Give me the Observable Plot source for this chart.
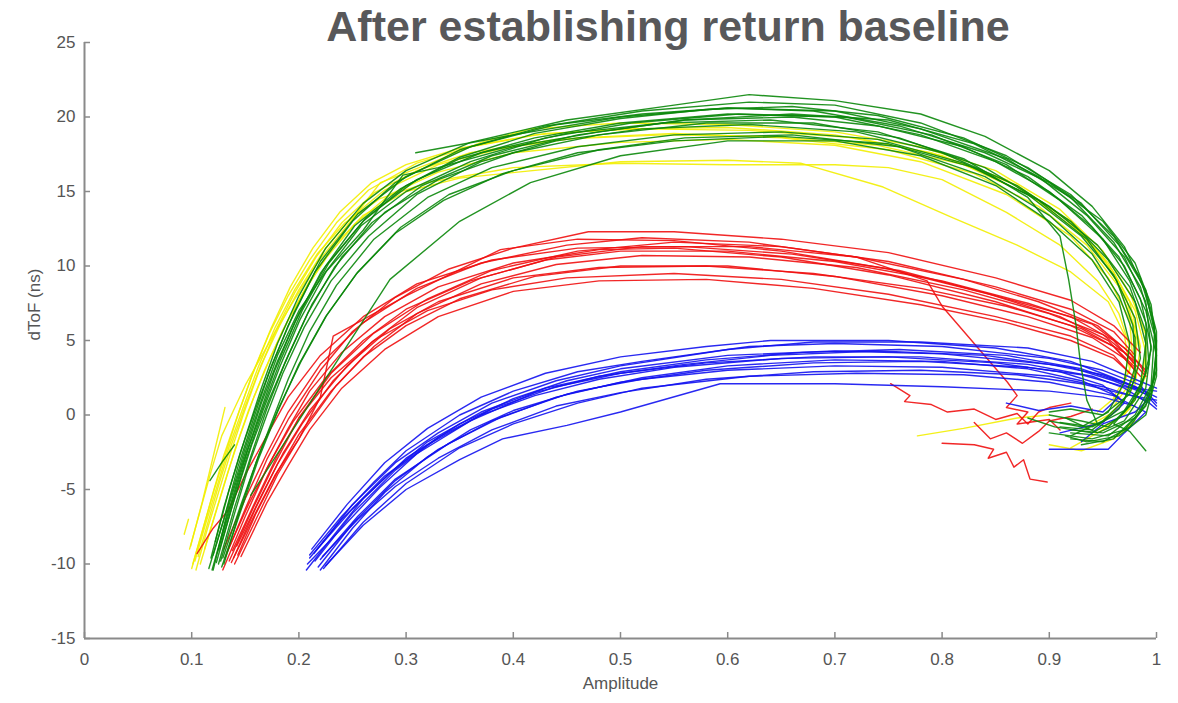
<!DOCTYPE html>
<html>
<head>
<meta charset="utf-8">
<script src="https://cdn.jsdelivr.net/npm/d3@7"></script>
<script src="https://cdn.jsdelivr.net/npm/@observablehq/plot@0.6"></script>
<style>
  html, body { margin: 0; padding: 0; background: #fff; }
  #wrap { position: relative; width: 1178px; height: 703px; overflow: hidden; }
  #title { position: absolute; top: 5px; left: 668px; transform: translateX(-50%); white-space: nowrap;
    font-family: "Liberation Sans", Arial, Helvetica, sans-serif; font-weight: bold; font-size: 43px;
    line-height: 42px; color: #58585a; z-index: 2; }
  #chart { position: absolute; top: 0; left: 0; }
</style>
</head>
<body>
<div id="wrap">
  <div id="chart"></div>
  <div id="title">After establishing return baseline</div>
</div>
<script>
// ---- Data (amplitude, dToF); each curve = flat [x0,y0,x1,y1,...] ----
const xTicks = [0, 0.1, 0.2, 0.3, 0.4, 0.5, 0.6, 0.7, 0.8, 0.9, 1];
const yTicks = [-15, -10, -5, 0, 5, 10, 15, 20, 25];

const yellowCurves = [
  [0.10,-10.3, 0.11,-7.8, 0.12,-5.2, 0.13,-2.7, 0.142,-0.2, 0.156,2.6, 0.172,5.4, 0.19,8.0, 0.21,10.4, 0.235,12.9, 0.265,15.1, 0.31,16.9, 0.36,18.0, 0.43,18.9, 0.52,19.2, 0.62,19.1, 0.72,18.6, 0.80,17.4, 0.87,15.4, 0.92,13.0, 0.955,10.2, 0.975,7.6, 0.985,4.6, 0.98,2.0, 0.96,0.2, 0.935,-0.8],
  [0.106,-9.5, 0.116,-7.0, 0.126,-4.5, 0.137,-2.0, 0.15,0.6, 0.165,3.4, 0.182,6.0, 0.20,8.4, 0.222,10.9, 0.248,13.2, 0.28,15.1, 0.33,16.8, 0.39,17.9, 0.46,18.6, 0.55,18.9, 0.65,18.6, 0.75,17.8, 0.83,16.2, 0.89,14.0, 0.935,11.4, 0.965,8.6, 0.98,5.8, 0.98,3.0, 0.97,1.0, 0.95,-0.4],
  [0.108,-10.0, 0.118,-7.6, 0.129,-5.0, 0.14,-2.4, 0.153,0.3, 0.168,3.0, 0.185,5.7, 0.204,8.2, 0.226,10.6, 0.252,12.8, 0.285,14.8, 0.33,16.3, 0.40,17.6, 0.50,18.3, 0.60,18.5, 0.70,18.1, 0.78,17.0, 0.86,14.8, 0.92,12.0, 0.955,9.2, 0.975,6.4, 0.978,3.6, 0.965,1.4, 0.945,0.2],
  [0.112,-9.0, 0.122,-6.6, 0.133,-4.0, 0.145,-1.4, 0.158,1.2, 0.173,3.8, 0.19,6.4, 0.21,9.0, 0.232,11.3, 0.26,13.4, 0.30,15.0, 0.35,15.9, 0.404,16.3, 0.50,17.0, 0.60,17.1, 0.668,16.9, 0.745,15.3, 0.808,13.3, 0.87,11.4, 0.92,9.6, 0.955,7.6, 0.97,5.4, 0.975,3.0, 0.96,1.2],
  [0.103,-9.8, 0.113,-7.3, 0.124,-4.7, 0.135,-2.1, 0.148,0.5, 0.162,3.2, 0.178,5.9, 0.196,8.4, 0.217,10.8, 0.243,12.9, 0.275,14.5, 0.32,15.6, 0.40,16.6, 0.50,16.9, 0.60,16.8, 0.70,16.8, 0.75,16.6, 0.80,15.8, 0.86,13.6, 0.91,11.4, 0.945,9.0, 0.965,6.8, 0.975,4.6, 0.97,2.4],
  [0.098,-9.0, 0.108,-6.4, 0.118,-3.8, 0.128,-1.4, 0.137,0.0, 0.15,2.0, 0.164,3.8, 0.178,5.6, 0.192,7.3, 0.205,8.8, 0.217,10.2, 0.245,12.7, 0.276,15.6, 0.323,16.9, 0.37,18.3, 0.416,19.2, 0.50,19.6, 0.60,19.5, 0.70,19.0, 0.78,18.0, 0.85,16.4, 0.91,13.8, 0.95,11.0, 0.975,8.2, 0.99,5.4, 0.99,2.6, 0.975,0.4, 0.95,-1.0, 0.92,-2.2],
  [0.104,-10.4, 0.114,-7.8, 0.125,-5.2, 0.136,-2.6, 0.148,0.0, 0.162,2.8, 0.178,5.6, 0.196,8.2, 0.216,10.6, 0.24,12.9, 0.27,14.9, 0.31,16.4, 0.36,17.6, 0.44,18.5, 0.54,18.8, 0.64,18.7, 0.74,18.1, 0.82,16.8, 0.88,14.8, 0.93,12.2, 0.96,9.6, 0.98,7.0, 0.99,4.2, 0.985,1.6, 0.97,0.0, 0.94,-1.2],
  [0.101,-10.0, 0.111,-7.5, 0.121,-5.0, 0.132,-2.5, 0.144,0.2, 0.158,3.0, 0.174,5.8, 0.192,8.6, 0.213,11.2, 0.238,13.6, 0.268,15.6, 0.30,16.8, 0.35,17.9, 0.42,18.8, 0.50,19.2, 0.60,19.3, 0.70,18.8, 0.79,17.6, 0.86,15.8, 0.915,13.2, 0.95,10.6, 0.972,7.8, 0.982,5.0, 0.978,2.4, 0.96,0.6],
  [0.099,-8.8, 0.11,-5.8, 0.12,-2.8, 0.131,0.5],
  [0.093,-8.0, 0.097,-7.0],
  [0.777,-1.4, 0.82,-0.9, 0.87,-0.2, 0.90,0.0],
  [0.90,-2.0, 0.93,-2.4, 0.96,-1.6, 0.98,-0.4]
];

const redCurves = [
  [0.129,-10.4, 0.15,-6.8, 0.17,-3.6, 0.19,-0.9, 0.21,1.6, 0.24,4.2, 0.28,6.6, 0.33,8.6, 0.40,10.2, 0.48,11.1, 0.55,11.2, 0.65,10.6, 0.75,9.4, 0.85,7.6, 0.92,6.0, 0.96,4.6, 0.98,3.2],
  [0.143,-9.4, 0.16,-6.6, 0.18,-3.8, 0.20,-1.3, 0.23,1.6, 0.26,3.9, 0.30,6.0, 0.35,7.8, 0.42,9.3, 0.50,10.0, 0.60,10.0, 0.70,9.3, 0.80,8.0, 0.88,6.6, 0.94,5.2, 0.97,3.8, 0.985,2.6],
  [0.135,-9.8, 0.155,-6.6, 0.175,-3.6, 0.20,-0.2, 0.23,2.8, 0.27,5.5, 0.32,7.8, 0.38,9.7, 0.46,11.0, 0.55,11.6, 0.65,11.3, 0.75,10.3, 0.85,8.6, 0.92,7.1, 0.96,5.6, 0.98,4.0],
  [0.138,-9.1, 0.16,-5.7, 0.18,-2.7, 0.20,-0.2, 0.23,2.5, 0.27,5.0, 0.32,7.0, 0.38,8.4, 0.45,9.2, 0.55,9.5, 0.65,9.1, 0.75,8.1, 0.85,6.6, 0.92,5.3, 0.96,4.0, 0.975,2.8],
  [0.146,-9.5, 0.17,-5.9, 0.19,-3.4, 0.21,-1.0, 0.24,1.8, 0.28,4.4, 0.33,6.6, 0.40,8.3, 0.48,9.0, 0.58,9.1, 0.68,8.5, 0.78,7.4, 0.86,6.2, 0.92,5.0, 0.96,3.8, 0.98,2.5],
  [0.131,-9.6, 0.15,-6.3, 0.17,-3.0, 0.19,-0.3, 0.22,3.0, 0.25,5.6, 0.29,7.9, 0.34,9.8, 0.40,11.2, 0.47,12.3, 0.55,12.3, 0.65,11.8, 0.75,10.9, 0.85,9.2, 0.92,7.7, 0.96,6.0, 0.985,4.2],
  [0.14,-10.0, 0.16,-7.0, 0.18,-4.0, 0.205,-1.0, 0.235,2.0, 0.27,4.6, 0.31,6.8, 0.37,8.8, 0.44,10.1, 0.52,10.7, 0.62,10.6, 0.72,9.9, 0.82,8.4, 0.90,6.8, 0.95,5.4, 0.98,3.6],
  [0.133,-9.2, 0.153,-6.0, 0.173,-3.2, 0.195,-0.4, 0.225,2.5, 0.26,5.0, 0.30,7.1, 0.36,9.0, 0.43,10.4, 0.50,11.0, 0.60,11.0, 0.70,10.3, 0.80,9.0, 0.88,7.5, 0.94,6.1, 0.97,4.5, 0.99,3.0],
  [0.137,-9.9, 0.158,-6.8, 0.178,-4.0, 0.20,-1.6, 0.22,1.2, 0.232,5.3, 0.30,8.0, 0.388,11.1, 0.46,11.8, 0.55,11.7, 0.65,11.0, 0.75,9.8, 0.85,8.0, 0.92,6.6, 0.96,5.0, 0.98,3.4],
  [0.142,-8.8, 0.165,-5.4, 0.185,-2.6, 0.21,0.3, 0.245,3.3, 0.285,5.8, 0.33,7.6, 0.40,9.2, 0.48,9.9, 0.58,10.0, 0.68,9.5, 0.78,8.5, 0.86,7.3, 0.93,5.8, 0.97,4.2, 0.99,2.6],
  [0.13,-9.0, 0.15,-5.6, 0.17,-2.6, 0.19,0.2, 0.22,3.4, 0.26,6.2, 0.31,8.5, 0.37,10.2, 0.45,11.4, 0.52,11.9, 0.62,11.6, 0.72,10.6, 0.786,9.0, 0.80,7.3, 0.861,2.2, 0.87,1.3, 0.86,0.5, 0.88,0.2, 0.87,-0.6, 0.90,-0.3, 0.91,-1.0],
  [0.105,-9.3, 0.12,-7.6, 0.134,-6.4, 0.15,-4.0, 0.17,-1.4, 0.19,1.2, 0.22,4.0, 0.26,6.6, 0.31,8.8, 0.38,10.4, 0.46,11.2, 0.56,11.3, 0.66,10.8, 0.76,9.7, 0.84,8.2, 0.91,6.6, 0.955,5.0, 0.98,3.0],
  [0.139,-9.6, 0.16,-6.2, 0.18,-3.3, 0.203,-0.6, 0.232,2.3, 0.268,4.9, 0.31,7.2, 0.37,9.2, 0.44,10.6, 0.52,11.3, 0.62,11.3, 0.72,10.6, 0.82,9.1, 0.89,7.6, 0.945,6.0, 0.975,4.2, 0.99,2.8],
  [0.752,2.1, 0.77,1.3, 0.765,0.9, 0.79,0.7, 0.805,0.2, 0.83,0.4, 0.85,-0.3, 0.87,0.1, 0.88,-0.6, 0.89,0.2, 0.90,0.5, 0.92,0.8],
  [0.80,-1.9, 0.83,-2.0, 0.848,-2.3, 0.843,-2.9, 0.86,-2.5, 0.867,-3.5, 0.876,-3.0, 0.882,-4.3, 0.898,-4.5],
  [0.83,-0.5, 0.845,-1.6, 0.86,-1.2, 0.875,-1.9, 0.89,-1.1, 0.90,-0.4, 0.92,-0.1, 0.94,0.4]
];

const blueCurves = [
  [0.207,-10.4, 0.23,-8.3, 0.26,-5.6, 0.30,-2.9, 0.35,-0.6, 0.40,1.1, 0.45,2.3, 0.50,3.1, 0.60,4.0, 0.70,4.3, 0.80,4.1, 0.90,3.4, 0.95,2.7, 0.98,1.9, 1.0,1.2],
  [0.21,-9.4, 0.24,-6.8, 0.27,-4.5, 0.30,-2.4, 0.35,0.0, 0.40,1.6, 0.46,2.9, 0.52,3.6, 0.62,4.6, 0.70,4.8, 0.80,4.6, 0.90,3.8, 0.95,3.0, 0.985,2.0, 0.995,1.0],
  [0.22,-10.4, 0.25,-7.6, 0.28,-5.2, 0.32,-2.8, 0.36,-1.0, 0.40,0.3, 0.46,1.6, 0.52,2.4, 0.60,3.0, 0.70,3.3, 0.80,3.2, 0.90,2.6, 0.95,1.9, 0.99,1.0, 1.0,0.4],
  [0.215,-9.8, 0.25,-6.6, 0.29,-3.7, 0.33,-1.5, 0.38,0.4, 0.44,1.9, 0.50,2.8, 0.58,3.5, 0.68,3.9, 0.78,3.9, 0.88,3.4, 0.94,2.6, 0.97,1.8, 0.99,0.9],
  [0.225,-10.1, 0.26,-7.4, 0.30,-5.0, 0.35,-3.0, 0.39,-1.6, 0.45,-0.7, 0.50,0.2, 0.593,2.1, 0.70,2.1, 0.80,1.9, 0.90,1.6, 0.95,1.2, 0.98,0.6],
  [0.212,-9.0, 0.245,-6.0, 0.28,-3.2, 0.32,-0.9, 0.37,1.2, 0.43,2.8, 0.50,3.9, 0.58,4.6, 0.64,5.0, 0.75,5.0, 0.85,4.5, 0.92,3.6, 0.96,2.5, 0.99,1.6, 1.0,0.8],
  [0.218,-10.2, 0.25,-7.3, 0.29,-4.4, 0.33,-2.3, 0.38,-0.4, 0.44,1.2, 0.50,2.2, 0.58,3.0, 0.68,3.5, 0.78,3.6, 0.88,3.2, 0.93,2.7, 0.97,1.9, 1.0,1.6],
  [0.21,-9.6, 0.24,-7.0, 0.28,-4.1, 0.32,-2.0, 0.37,0.0, 0.42,1.3, 0.48,2.4, 0.55,3.2, 0.65,3.8, 0.75,3.9, 0.85,3.5, 0.91,2.9, 0.95,2.0, 0.97,0.8, 0.95,-0.5, 0.91,-1.2],
  [0.223,-10.3, 0.26,-7.2, 0.30,-4.6, 0.35,-2.2, 0.40,-0.6, 0.46,0.8, 0.52,1.8, 0.62,2.6, 0.72,2.8, 0.82,2.7, 0.90,2.2, 0.96,1.3, 0.99,0.2, 0.97,-1.2, 0.955,-2.3, 0.90,-2.3],
  [0.214,-9.3, 0.25,-6.0, 0.29,-3.2, 0.33,-1.2, 0.38,0.8, 0.44,2.3, 0.50,3.3, 0.60,4.4, 0.68,4.9, 0.78,4.9, 0.88,4.5, 0.94,3.6, 0.98,2.4, 1.0,1.8],
  [0.22,-9.7, 0.255,-6.8, 0.29,-4.3, 0.34,-1.9, 0.39,-0.1, 0.45,1.4, 0.52,2.5, 0.60,3.3, 0.70,3.7, 0.80,3.6, 0.88,3.1, 0.93,2.3, 0.965,1.2, 0.95,0.2, 0.92,0.6, 0.89,0.3, 0.86,0.8],
  [0.208,-10.0, 0.24,-7.6, 0.275,-4.9, 0.31,-2.6, 0.36,-0.4, 0.42,1.5, 0.48,2.6, 0.56,3.4, 0.64,4.0, 0.74,4.3, 0.84,4.0, 0.92,3.2, 0.96,2.3, 0.99,1.4, 1.0,0.6],
  [0.216,-9.1, 0.25,-6.3, 0.285,-3.9, 0.32,-1.8, 0.37,0.2, 0.43,1.8, 0.50,2.9, 0.58,3.7, 0.67,4.2, 0.76,4.4, 0.86,4.0, 0.93,3.1, 0.975,2.0, 0.995,1.2, 0.98,0.2, 0.95,-0.6, 0.93,-1.8],
  [0.222,-9.5, 0.255,-7.0, 0.29,-4.8, 0.33,-2.9, 0.38,-1.0, 0.44,0.6, 0.50,1.5, 0.58,2.4, 0.68,2.9, 0.78,3.0, 0.87,2.7, 0.93,2.1, 0.97,1.4, 1.0,1.0]
];

const greenCurves = [
  [0.12,-10.4, 0.135,-6.0, 0.15,-2.5, 0.165,0.8, 0.18,3.6, 0.20,6.8, 0.225,10.0, 0.26,13.0, 0.30,15.4, 0.35,17.2, 0.42,18.6, 0.50,19.6, 0.60,20.2, 0.70,20.0, 0.78,18.8, 0.85,17.0, 0.90,15.0, 0.94,12.6, 0.97,10.0, 0.99,7.0, 1.0,4.0, 0.995,1.5, 0.98,-0.2, 0.95,-1.2, 0.92,-1.0],
  [0.127,-9.8, 0.14,-6.6, 0.155,-3.0, 0.17,0.0, 0.185,2.8, 0.205,5.9, 0.23,9.0, 0.265,12.0, 0.31,14.8, 0.37,17.0, 0.44,18.4, 0.52,19.2, 0.62,19.5, 0.72,19.0, 0.80,17.6, 0.87,15.4, 0.92,13.0, 0.955,10.4, 0.98,7.6, 0.99,4.8, 0.985,2.0, 0.97,0.3, 0.94,-0.8, 0.91,-0.5],
  [0.118,-9.6, 0.13,-6.2, 0.145,-2.6, 0.16,0.5, 0.175,3.4, 0.195,6.8, 0.22,10.3, 0.255,13.5, 0.30,16.0, 0.36,18.0, 0.44,19.5, 0.52,20.4, 0.62,21.0, 0.70,20.8, 0.78,19.6, 0.86,17.4, 0.92,14.8, 0.96,12.0, 0.985,9.2, 0.998,6.0, 1.0,3.0, 0.99,0.6, 0.97,-1.0, 0.94,-1.6, 0.90,-1.2],
  [0.122,-8.5, 0.135,-5.0, 0.15,-1.5, 0.165,1.8, 0.18,4.8, 0.20,8.0, 0.225,11.2, 0.26,14.2, 0.30,16.4, 0.36,18.3, 0.45,19.8, 0.55,20.8, 0.62,21.5, 0.70,21.1, 0.78,20.2, 0.84,18.7, 0.90,16.4, 0.94,14.0, 0.97,11.3, 0.99,8.2, 1.0,5.0, 0.998,2.4, 0.985,0.2, 0.96,-1.6, 0.93,-2.0],
  [0.13,-10.0, 0.145,-6.4, 0.16,-3.2, 0.175,-0.4, 0.19,2.4, 0.21,5.6, 0.235,8.7, 0.27,11.8, 0.32,14.6, 0.38,16.6, 0.46,18.0, 0.55,18.8, 0.65,19.0, 0.74,18.5, 0.82,16.9, 0.88,14.8, 0.93,12.0, 0.96,9.4, 0.98,6.5, 0.985,3.8, 0.975,1.4, 0.95,0.0, 0.92,0.4, 0.90,0.2],
  [0.124,-9.2, 0.138,-5.8, 0.152,-2.4, 0.168,0.8, 0.183,3.7, 0.203,7.0, 0.228,10.2, 0.262,13.2, 0.31,15.8, 0.37,17.6, 0.45,18.9, 0.54,19.6, 0.64,19.8, 0.74,19.0, 0.82,17.2, 0.88,14.6, 0.91,12.0, 0.918,9.1, 0.925,6.0, 0.929,3.5, 0.935,1.0, 0.945,-0.6],
  [0.116,-10.3, 0.13,-7.0, 0.143,-3.5, 0.157,-0.4, 0.172,2.8, 0.19,6.0, 0.215,9.6, 0.25,13.0, 0.29,15.6, 0.35,17.8, 0.43,19.4, 0.52,20.2, 0.60,20.6, 0.68,20.4, 0.76,19.4, 0.84,17.6, 0.90,15.6, 0.95,13.0, 0.98,10.2, 0.995,7.4, 1.0,4.4, 0.995,1.2, 0.975,-0.8, 0.95,-1.8, 0.92,-1.6],
  [0.126,-9.0, 0.14,-5.6, 0.156,-2.0, 0.172,1.0, 0.19,4.0, 0.212,7.4, 0.24,10.6, 0.28,13.6, 0.33,15.8, 0.40,17.6, 0.48,18.8, 0.58,19.6, 0.68,19.6, 0.76,18.6, 0.84,16.6, 0.90,14.0, 0.945,11.4, 0.975,8.6, 0.99,5.6, 0.99,2.8, 0.975,0.6, 0.955,-0.8, 0.93,-0.4, 0.90,0.0],
  [0.128,-10.2, 0.145,-6.6, 0.162,-3.0, 0.18,0.2, 0.20,3.4, 0.225,6.6, 0.255,9.6, 0.295,12.6, 0.34,14.8, 0.40,16.4, 0.48,17.8, 0.56,18.6, 0.66,18.8, 0.76,18.0, 0.84,16.0, 0.90,13.4, 0.94,10.8, 0.965,8.0, 0.98,5.2, 0.98,2.4, 0.965,0.4, 0.94,-1.0, 0.91,-0.8],
  [0.309,17.6, 0.40,18.8, 0.50,20.0, 0.60,20.6, 0.70,20.4, 0.78,19.2, 0.86,17.2, 0.92,14.6, 0.96,11.6, 0.985,8.6, 0.998,5.4, 0.995,2.0, 0.98,0.0, 0.955,-1.4, 0.92,-1.2],
  [0.12,-9.4, 0.135,-5.8, 0.15,-2.2, 0.165,1.0, 0.18,4.0, 0.20,7.0, 0.225,9.6, 0.26,12.4, 0.297,16.1, 0.33,16.6, 0.40,18.0, 0.48,19.0, 0.56,19.8, 0.66,20.0, 0.74,19.4, 0.82,18.0, 0.88,16.0, 0.93,13.4, 0.965,10.6, 0.985,7.8, 0.995,4.6, 0.99,1.8, 0.97,-0.4, 0.945,-1.2, 0.915,-0.2],
  [0.155,-5.4, 0.23,3.0, 0.285,9.1, 0.35,13.0, 0.416,15.6, 0.50,17.4, 0.60,18.4, 0.70,18.4, 0.78,17.4, 0.85,15.4, 0.90,13.0, 0.94,10.4, 0.965,7.6, 0.975,4.8, 0.97,2.2, 0.955,0.2, 0.93,-0.8, 0.90,-0.4],
  [0.119,-10.4, 0.133,-6.8, 0.147,-3.4, 0.162,-0.2, 0.177,2.9, 0.196,6.2, 0.22,9.5, 0.252,12.7, 0.295,15.2, 0.35,17.3, 0.42,18.9, 0.50,19.9, 0.58,20.5, 0.66,20.7, 0.74,20.1, 0.82,18.6, 0.88,16.6, 0.93,14.2, 0.965,11.4, 0.99,8.4, 1.0,5.6, 1.0,2.6, 0.99,0.0, 0.965,-1.4, 0.935,-1.8, 0.915,-1.4],
  [0.125,-10.0, 0.14,-6.2, 0.155,-2.8, 0.17,0.4, 0.187,3.5, 0.208,6.8, 0.233,9.9, 0.268,12.9, 0.315,15.4, 0.38,17.4, 0.46,18.8, 0.56,19.8, 0.66,20.2, 0.75,19.8, 0.83,18.2, 0.89,16.0, 0.935,13.4, 0.97,10.6, 0.99,7.6, 0.995,4.4, 0.985,1.6, 0.965,-0.2, 0.94,-1.2, 0.905,-0.8, 0.88,-0.2],
  [0.117,-4.4, 0.128,-3.2, 0.14,-2.0],
  [0.123,-9.9, 0.137,-6.3, 0.151,-2.9, 0.166,0.2, 0.182,3.2, 0.201,6.4, 0.226,9.7, 0.258,12.7, 0.30,15.0, 0.36,17.0, 0.43,18.6, 0.51,19.6, 0.61,20.2, 0.71,20.0, 0.79,18.8, 0.86,16.8, 0.91,14.4, 0.95,11.8, 0.975,9.0, 0.99,6.2, 0.993,3.4, 0.98,1.0, 0.96,-0.6, 0.975,-1.1, 0.99,-2.4],
  [0.129,-9.6, 0.146,-6.0, 0.163,-2.6, 0.182,0.6, 0.202,3.6, 0.226,6.7, 0.254,9.5, 0.29,12.2, 0.335,14.4, 0.39,16.2, 0.46,17.6, 0.55,18.4, 0.65,18.7, 0.75,18.2, 0.83,16.6, 0.89,14.4, 0.935,11.8, 0.963,9.0, 0.978,6.0, 0.98,3.2, 0.97,1.0, 0.95,-0.4, 0.92,-1.4]
];

// ---- Build a long table from the curve arrays ----
function toRows(curves, name) {
  const rows = [];
  curves.forEach((c, i) => {
    for (let k = 0; k + 1 < c.length; k += 2) rows.push({amp: c[k], dtof: c[k + 1], id: name + i});
  });
  return rows;
}
const yellowRows = toRows(yellowCurves, "y");
const redRows = toRows(redCurves, "r");
const blueRows = toRows(blueCurves, "b");
const greenRows = toRows(greenCurves, "g");

const axisColor = "#8a8a8a";
const textColor = "#555555";
const font = "'Liberation Sans', Arial, Helvetica, sans-serif";
const lineOpts = {x: "amp", y: "dtof", z: "id", strokeWidth: 1.4, strokeOpacity: 0.9, curve: "linear"};
const fmt = (d) => String(d);

const chart = Plot.plot({
  width: 1178,
  height: 703,
  marginLeft: 84,
  marginRight: 22,
  marginTop: 42,
  marginBottom: 65,
  style: {fontFamily: font, fontSize: "17px", color: textColor, background: "#fff"},
  x: {domain: [0, 1]},
  y: {domain: [-15, 25]},
  marks: [
    Plot.line(yellowRows, {...lineOpts, stroke: "#f2ee00"}),
    Plot.line(redRows, {...lineOpts, stroke: "#f01010"}),
    Plot.line(blueRows, {...lineOpts, stroke: "#1212f0"}),
    Plot.line(greenRows, {...lineOpts, stroke: "#0a870a"}),
    // axis lines
    Plot.ruleX([0], {y1: -15, y2: 25, stroke: axisColor, strokeWidth: 2}),
    Plot.ruleY([-15], {x1: 0, x2: 1, stroke: axisColor, strokeWidth: 2}),
    // inward tick marks
    Plot.ruleX(xTicks, {y1: -15, y2: -15, insetTop: -6, stroke: axisColor, strokeWidth: 1.5}),
    Plot.ruleY(yTicks, {x1: 0, x2: 0, insetRight: -6, stroke: axisColor, strokeWidth: 1.5}),
    // tick labels
    Plot.axisX({ticks: xTicks, tickFormat: fmt, tickSize: 0, tickPadding: 14, label: null, fill: textColor, fontSize: 17}),
    Plot.axisY({ticks: yTicks, tickFormat: fmt, tickSize: 0, tickPadding: 9, label: null, fill: textColor, fontSize: 17}),
    // axis titles
    Plot.text(["Amplitude"], {frameAnchor: "bottom", dy: 50, fill: textColor, fontSize: 17}),
    Plot.text(["dToF (ns)"], {frameAnchor: "left", dx: -50, rotate: -90, fill: textColor, fontSize: 17})
  ]
});
document.getElementById("chart").appendChild(chart);
</script>
</body>
</html>
